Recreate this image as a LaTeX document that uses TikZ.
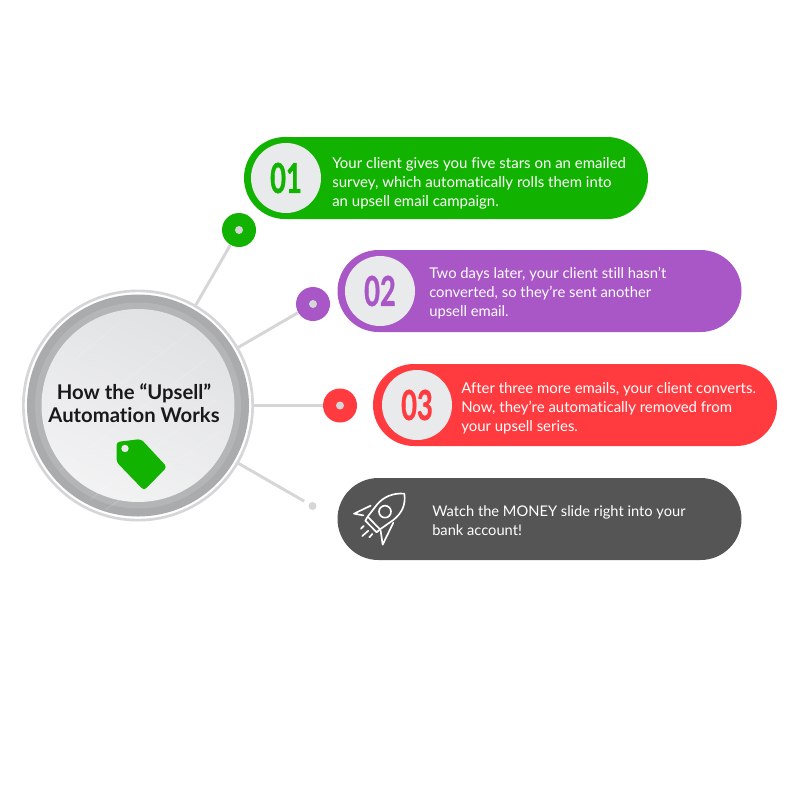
\documentclass[tikz,border=0pt]{standalone}
\usepackage{fontspec}
\setmainfont{Lato}[Ligatures=NoCommon]
\usetikzlibrary{shapes.misc}
\definecolor{cgreen}{HTML}{12B300}
\definecolor{cpurple}{HTML}{A957C6}
\definecolor{cred}{HTML}{FF3B3F}
\definecolor{cdark}{HTML}{555555}
\definecolor{cspoke}{HTML}{D6D6D8}
\definecolor{cface}{HTML}{E9EAEB}
\tikzset{
 x=.75pt,y=-.75pt,
 pill/.style={rectangle,rounded corners=30.7pt,minimum width=303pt,minimum height=61.5pt,inner sep=0pt,fill=#1},
 badge/.style={circle,minimum size=52.5pt,inner sep=0pt,fill=cface,font=\fontsize{31}{31}\selectfont\bfseries\addfontfeature{FakeBold=1.2},text=#1},
 dotnode/.style={circle,minimum size=25.5pt,inner sep=0pt,fill=#1},
 pip/.style={circle,minimum size=6pt,inner sep=0pt,fill=#1},
 body/.style={anchor=west,align=left,text=white,inner sep=0pt,font=\fontsize{#1}{14.4}\selectfont},
 body/.default=11.25,
 spoke/.style={draw=cspoke,line width=2.2pt},
 icon/.style={draw=white,line width=1.25pt,line join=round,line cap=round},
}
\newcommand{\cond}[1]{\scalebox{.66}[1]{#1}}
\begin{document}
\begin{tikzpicture}
\useasboundingbox (0,0) rectangle (800,800);
\fill[white] (0,0) rectangle (800,800);
% hub
\node[circle,minimum size=172pt,inner sep=0pt,draw=cspoke,line width=2pt] (hub) at (138,405.5) {};
\fill[color={rgb,255:red,170;green,171;blue,173}] (hub.center) circle[radius=111];
\fill[color={rgb,255:red,180;green,181;blue,183}] (hub.center) circle[radius=103];
\shade[top color=cface!92!gray,bottom color=cface!60!white,shading angle=-25] (hub.center) circle[radius=96.5];
\foreach \a/\b/\c/\d in {72/362/120/322,110/392/190/332,60/470/205/360,90/500/215/400,105/510/222/430}{
 \draw[white,opacity=.12,line width=1pt] (\a,\b) -- (\c,\d);}
\node[font=\fontsize{15.2}{17.4}\selectfont\bfseries,align=center,text=black!90] (title) at (134,403.5) {How the “Upsell”\\Automation Works};
\fill[cgreen,rounded corners=2.5pt] (116.5,442) -- (141,439) -- (167,467) -- (144,490.5) -- (116.5,462) -- cycle;
\fill[cface] (125,448.5) circle[radius=3.7];
% spokes' end dots
\node[dotnode=cgreen] (d1) at (239,230) {};
\node[pip=cspoke] at (d1) {};
\node[dotnode=cpurple] (d2) at (313,304) {};
\node[pip=cspoke] at (d2) {};
\node[dotnode=cred] (d3) at (340,405.5) {};
\node[pip=cspoke] at (d3) {};
\node[pip=cspoke] (d4) at (312.5,506) {};
\draw[spoke] (hub) -- (d1);
\draw[spoke] (hub) -- (d2);
\draw[spoke] (hub) -- (d3);
\draw[spoke,shorten >=4pt] (hub) -- (d4);
% pills
\node[pill=cgreen] (p1) at (446,178) {};
\node[badge=cgreen] (b1) at (286,178) {\cond{01}};
\node[body] (t1) at (332,183.5) {Your client gives you five stars on an emailed\\survey, which automatically rolls them into\\an upsell email campaign.};
\node[pill=cpurple] (p2) at (539.5,291) {};
\node[badge=cpurple] (b2) at (380,291) {\cond{02}};
\node[body=11.1] (t2) at (429,293) {Two days later, your client still hasn’t\\converted, so they’re sent another\\upsell email.};
\node[pill=cred] (p3) at (575,405) {};
\node[badge=cred] (b3) at (417,405) {\cond{03}};
\node[body=11.2] (t3) at (461,408) {After three more emails, your client converts.\\Now, they’re automatically removed from\\your upsell series.};
\node[pill=cdark] (p4) at (539.5,519) {};
\node[body=11] (t4) at (432,521) {Watch the MONEY slide right into your\\bank account!};
% rocket
\begin{scope}[shift={(330,470)},x=.25pt,y=-.25pt]
\draw[icon] (223,71) .. controls (190,68) and (160,80) .. (140,105) -- (113,140) -- (150,178) -- (190,150) .. controls (215,130) and (228,105) .. (223,71) -- cycle;
\draw[icon] (165,125) circle[radius=18];
\draw[icon] (122,107) -- (72,131) -- (100,136);
\draw[icon] (190,158) -- (158,224) -- (152,182);
\draw[icon] (113,140) -- (106,152) -- (140,187) -- (150,178);
\draw[icon] (101,168) -- (93,176);
\draw[icon] (115,182) -- (97,198);
\draw[icon] (127,192) -- (118,202);
\end{scope}
\end{tikzpicture}
\end{document}
